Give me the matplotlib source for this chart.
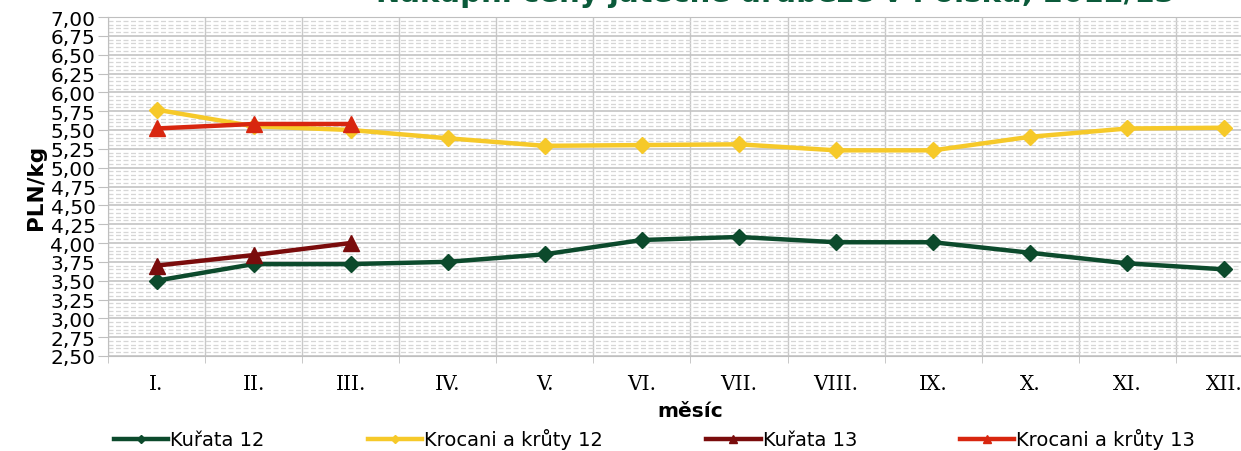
#!/usr/bin/env python
# nakupni ceny jatecne drubeze v Polsku, 2012/13

import numpy as np
import matplotlib.pyplot as plt
from matplotlib.ticker import MultipleLocator, FixedLocator

# data
mesice = ['I.', 'II.', 'III.', 'IV.', 'V.', 'VI.', 'VII.', 'VIII.', 'IX.', 'X.', 'XI.', 'XII.']
kurata_12 = [3.50, 3.72, 3.72, 3.75, 3.85, 4.04, 4.08, 4.01, 4.01, 3.87, 3.73, 3.65]
krocani_12 = [5.77, 5.55, 5.50, 5.39, 5.29, 5.30, 5.31, 5.23, 5.23, 5.41, 5.52, 5.53]
kurata_13 = [3.70, 3.84, 4.00]
krocani_13 = [5.52, 5.58, 5.58]

x12 = np.arange(len(mesice))
x13 = np.arange(len(kurata_13))

fig = plt.figure(figsize=(12.41, 4.52), dpi=100)
ax = fig.add_axes([108/1241, 1 - 357/452, (1273 - 108)/1241, (357 - 18)/452])

ax.plot(x12, kurata_12, color='#0c4a2c', lw=3.2, marker='D', ms=8, label='Kuřata 12', zorder=3)
ax.plot(x12, krocani_12, color='#f6c929', lw=3.2, marker='D', ms=8, label='Krocani a krůty 12', zorder=3)
ax.plot(x13, kurata_13, color='#7a0c0c', lw=3.2, marker='^', ms=11, label='Kuřata 13', zorder=4)
ax.plot(x13, krocani_13, color='#d8260f', lw=3.2, marker='^', ms=11, label='Krocani a krůty 13', zorder=4)

ax.set_xlim(-0.5, 11.5)
ax.set_ylim(2.5, 7.0)
ax.yaxis.set_major_locator(MultipleLocator(0.25))
ax.yaxis.set_minor_locator(MultipleLocator(0.05))
ax.set_yticks(np.arange(2.5, 7.01, 0.25))
ax.set_yticklabels([('%.2f' % v).replace('.', ',') for v in ax.get_yticks()], fontsize=14.5,
                   family='DejaVu Sans')

ax.set_xticks(x12)
ax.set_xticklabels(mesice, fontsize=14.5, family='DejaVu Serif')
ax.xaxis.set_minor_locator(FixedLocator(np.arange(-0.5, 12, 1)))
ax.tick_params(axis='x', which='major', length=0, pad=13)
ax.tick_params(axis='x', which='minor', length=5, color='#bfbfbf')
ax.tick_params(axis='y', which='major', length=7, color='#bfbfbf', pad=2)
ax.tick_params(axis='y', which='minor', length=0)

ax.grid(axis='y', which='major', color='#c4c4c4', lw=1.2)
ax.grid(axis='y', which='minor', color='#d6d6d6', lw=0.9, ls=(0, (4, 2)))
ax.grid(axis='x', which='minor', color='#c8c8c8', lw=1.0)
ax.set_axisbelow(True)
for s in ax.spines.values():
    s.set_color('#bfbfbf')

ax.set_xlabel('měsíc', fontsize=14.5, fontweight='bold', labelpad=6)
ax.set_ylabel('PLN/kg', fontsize=15.5, fontweight='bold', labelpad=3)

fig.text(775/1241, 1 - 2/452, 'Nákupní ceny jatečné drůbeže v Polsku, 2012/13',
         ha='center', va='baseline', fontsize=21, fontweight='bold', color='#0b5a3a')

fig.legend(loc='center left', bbox_to_anchor=(114/1241, 1 - 440/452), ncol=4, frameon=False,
           fontsize=14, handlelength=2.8, handletextpad=0.1, columnspacing=5.3,
           markerscale=0.5, borderpad=0, borderaxespad=0)

plt.savefig('out.png', dpi=100, facecolor='white')
